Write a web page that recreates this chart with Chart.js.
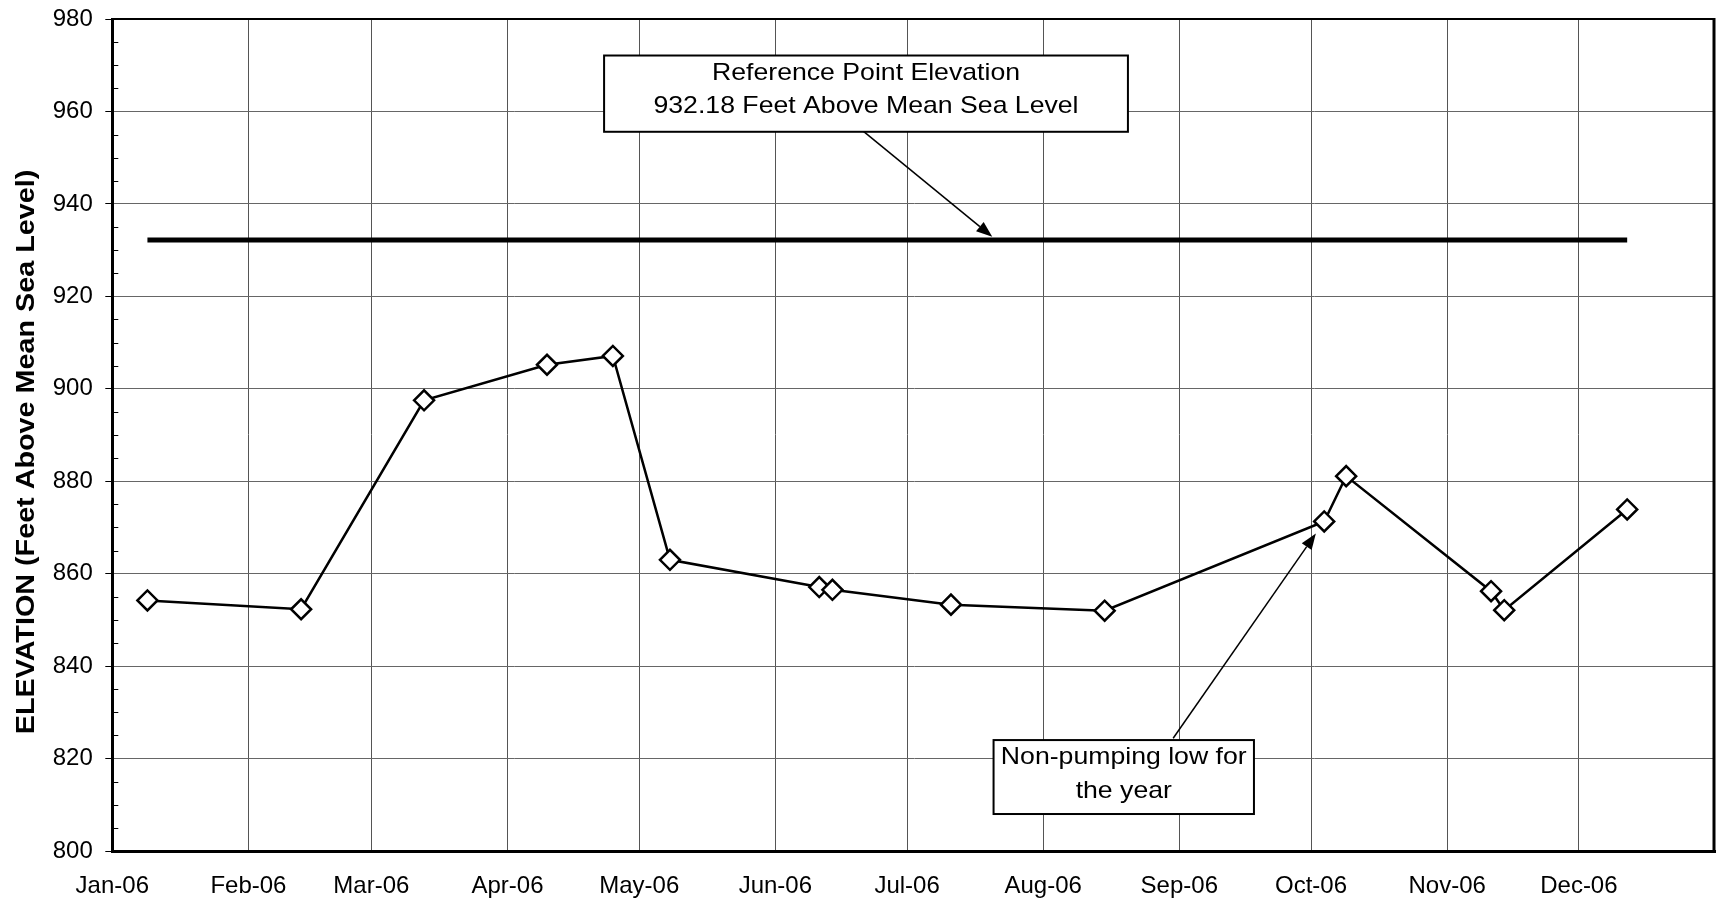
<!DOCTYPE html>
<html>
<head>
<meta charset="utf-8">
<title>Elevation 2006</title>
<script src="https://cdn.jsdelivr.net/npm/chart.js@4.4.1/dist/chart.umd.min.js"></script>
<style>
    html, body { margin: 0; padding: 0; background: #fff; }
    #wrap { width: 1716px; height: 900px; }
</style>
</head>
<body>
<div id="wrap"><canvas id="chart" width="1716" height="900"></canvas></div>
<script>
//////////////////////
// Chart data
//////////////////////
const sampleDates = [
    "2006-01-09", "2006-02-13", "2006-03-13", "2006-04-10", "2006-04-25",
    "2006-05-08", "2006-06-11", "2006-06-14", "2006-07-11", "2006-08-15",
    "2006-10-04", "2006-10-09", "2006-11-11", "2006-11-14", "2006-12-12"
];
const elevations = [
    854.2, 852.3, 897.5, 905.2, 907.1,
    863.0, 857.1, 856.5, 853.3, 852.0,
    871.3, 881.1, 856.2, 852.1, 873.9
];
const referenceElevation = 932.18;

const axisStart = "2006-01-01";
const axisEnd = "2007-01-01";
const monthStarts = [
    "2006-01-01", "2006-02-01", "2006-03-01", "2006-04-01", "2006-05-01", "2006-06-01",
    "2006-07-01", "2006-08-01", "2006-09-01", "2006-10-01", "2006-11-01", "2006-12-01"
];
const monthLabels = [
    "Jan-06", "Feb-06", "Mar-06", "Apr-06", "May-06", "Jun-06",
    "Jul-06", "Aug-06", "Sep-06", "Oct-06", "Nov-06", "Dec-06"
];
const yMin = 800, yMax = 980, yStep = 20, yMinorStep = 5;

const yTitle = "ELEVATION (Feet Above Mean Sea Level)";
const refNoteLines = ["Reference Point Elevation", "932.18 Feet Above Mean Sea Level"];
const lowNoteLines = ["Non-pumping low for", "the year"];

//////////////////////
// Helpers
//////////////////////
// days since the start of the axis
const toDay = (s) => (Date.parse(s) - Date.parse(axisStart)) / 86400000;

const FONT = '"Liberation Sans", Arial, sans-serif';

// note boxes, placed in data units (x = day of year, y = elevation)
const notes = [
    { lines: refNoteLines, x0: 112, x1: 231.3, yTop: 972.1, yBottom: 955.6,
      arrowFrom: [170.8, 955.9], arrowTo: [200.4, 932.9] },
    { lines: lowNoteLines, x0: 200.7, x1: 260.0, yTop: 824.0, yBottom: 808.0,
      arrowFrom: [241.6, 824.4], arrowTo: [274.1, 868.7] }
];

function stretchedText(ctx, text, x, y, size, weight, stretch, angle) {
    ctx.save();
    ctx.translate(x, y);
    if (angle) ctx.rotate(angle);
    ctx.scale(stretch, 1);
    ctx.font = weight + " " + size + "px " + FONT;
    ctx.fillStyle = "#000";
    ctx.textAlign = "center";
    ctx.textBaseline = "middle";
    ctx.fillText(text, 0, 0);
    ctx.restore();
}

function arrow(ctx, x1, y1, x2, y2) {
    const ang = Math.atan2(y2 - y1, x2 - x1);
    const len = 16, half = 6;
    ctx.save();
    ctx.strokeStyle = "#000";
    ctx.fillStyle = "#000";
    ctx.lineWidth = 1.5;
    ctx.beginPath();
    ctx.moveTo(x1, y1);
    ctx.lineTo(x2 - Math.cos(ang) * len, y2 - Math.sin(ang) * len);
    ctx.stroke();
    ctx.beginPath();
    ctx.moveTo(x2, y2);
    ctx.lineTo(x2 - Math.cos(ang) * len - Math.sin(ang) * half, y2 - Math.sin(ang) * len + Math.cos(ang) * half);
    ctx.lineTo(x2 - Math.cos(ang) * len + Math.sin(ang) * half, y2 - Math.sin(ang) * len - Math.cos(ang) * half);
    ctx.closePath();
    ctx.fill();
    ctx.restore();
}

//////////////////////
// Extra drawing: frame, minor ticks, axis title, notes
//////////////////////
const extrasPlugin = {
    id: "extras",
    afterDatasetsDraw(chart) {
        const ctx = chart.ctx;
        const { left, right, top, bottom } = chart.chartArea;
        const xs = chart.scales.x, ys = chart.scales.y;

        // top and right frame
        ctx.save();
        ctx.strokeStyle = "#000";
        ctx.lineWidth = 2;
        ctx.beginPath();
        ctx.moveTo(left, top);
        ctx.lineTo(right, top);
        ctx.stroke();
        ctx.lineWidth = 3;
        ctx.beginPath();
        ctx.moveTo(right - 1, top - 1);
        ctx.lineTo(right - 1, bottom);
        ctx.stroke();

        // minor ticks inside the y axis
        ctx.lineWidth = 1;
        for (let v = yMin + yMinorStep; v < yMax; v += yMinorStep) {
            if (v % yStep === 0) continue;
            const y = Math.round(ys.getPixelForValue(v)) + 0.5;
            ctx.beginPath();
            ctx.moveTo(left, y);
            ctx.lineTo(left + 6, y);
            ctx.stroke();
        }
        ctx.restore();

        // y axis title
        stretchedText(ctx, yTitle, 27.5, (top + bottom) / 2 + 17, 25, "bold", 1.15, -Math.PI / 2);

        // note boxes with arrows
        notes.forEach((n) => {
            const bx0 = xs.getPixelForValue(n.x0), bx1 = xs.getPixelForValue(n.x1);
            const by0 = ys.getPixelForValue(n.yTop), by1 = ys.getPixelForValue(n.yBottom);
            arrow(ctx,
                xs.getPixelForValue(n.arrowFrom[0]), ys.getPixelForValue(n.arrowFrom[1]),
                xs.getPixelForValue(n.arrowTo[0]), ys.getPixelForValue(n.arrowTo[1]));
            ctx.save();
            ctx.fillStyle = "#fff";
            ctx.fillRect(bx0, by0, bx1 - bx0, by1 - by0);
            ctx.strokeStyle = "#000";
            ctx.lineWidth = 2;
            ctx.strokeRect(bx0, by0, bx1 - bx0, by1 - by0);
            ctx.restore();
            const cx = (bx0 + bx1) / 2;
            n.lines.forEach((line, i) => {
                stretchedText(ctx, line, cx, by0 + 17.5 + i * 33.5, 24, "normal", 1.11, 0);
            });
        });
    }
};

//////////////////////
// Build the chart
//////////////////////
const seriesPoints = sampleDates.map((d, i) => ({ x: toDay(d), y: elevations[i] }));
const refPoints = [
    { x: toDay(sampleDates[0]), y: referenceElevation },
    { x: toDay(sampleDates[sampleDates.length - 1]), y: referenceElevation }
];

Chart.defaults.font.family = FONT;
Chart.defaults.color = "#000";

// keep the plot area fixed: no extra room for half labels at the ends
function noEdgePadding(scale) {
    scale.paddingTop = 0;
    scale.paddingBottom = 0;
    scale.paddingLeft = 0;
    scale.paddingRight = 0;
}

new Chart(document.getElementById("chart"), {
    type: "line",
    data: {
        datasets: [
            {
                label: "Reference Point Elevation",
                data: refPoints,
                borderColor: "#000",
                borderWidth: 5,
                pointRadius: 0,
                borderCapStyle: "butt"
            },
            {
                label: "Elevation",
                data: seriesPoints,
                borderColor: "#000",
                borderWidth: 2.5,
                tension: 0,
                pointStyle: "rectRot",
                pointRadius: 10,
                pointBackgroundColor: "#fff",
                pointBorderColor: "#000",
                pointBorderWidth: 2.5
            }
        ]
    },
    options: {
        responsive: false,
        animation: false,
        devicePixelRatio: 1,
        layout: { autoPadding: false, padding: { left: 0, right: 1, top: 19, bottom: 0 } },
        plugins: {
            legend: { display: false },
            tooltip: { enabled: false }
        },
        scales: {
            x: {
                type: "linear",
                min: toDay(axisStart),
                max: toDay(axisEnd),
                afterBuildTicks: (scale) => {
                    scale.ticks = monthStarts.map((d) => ({ value: toDay(d) }));
                },
                afterFit: (scale) => { scale.height = 49; noEdgePadding(scale); },
                ticks: {
                    autoSkip: false,
                    maxRotation: 0,
                    padding: 21,
                    font: { size: 24 },
                    color: "#000",
                    callback: (value, index) => monthLabels[index]
                },
                grid: { color: "#555", lineWidth: 1, drawTicks: false },
                border: { color: "#000", width: 3 }
            },
            y: {
                min: yMin,
                max: yMax,
                afterFit: (scale) => { scale.width = 112.3; noEdgePadding(scale); },
                ticks: {
                    stepSize: yStep,
                    padding: 12.5,
                    font: { size: 24 },
                    color: "#000"
                },
                grid: { color: "#666", lineWidth: 1, tickLength: 7, tickColor: "#000" },
                border: { color: "#000", width: 3 }
            }
        }
    },
    plugins: [extrasPlugin]
});
</script>
</body>
</html>
